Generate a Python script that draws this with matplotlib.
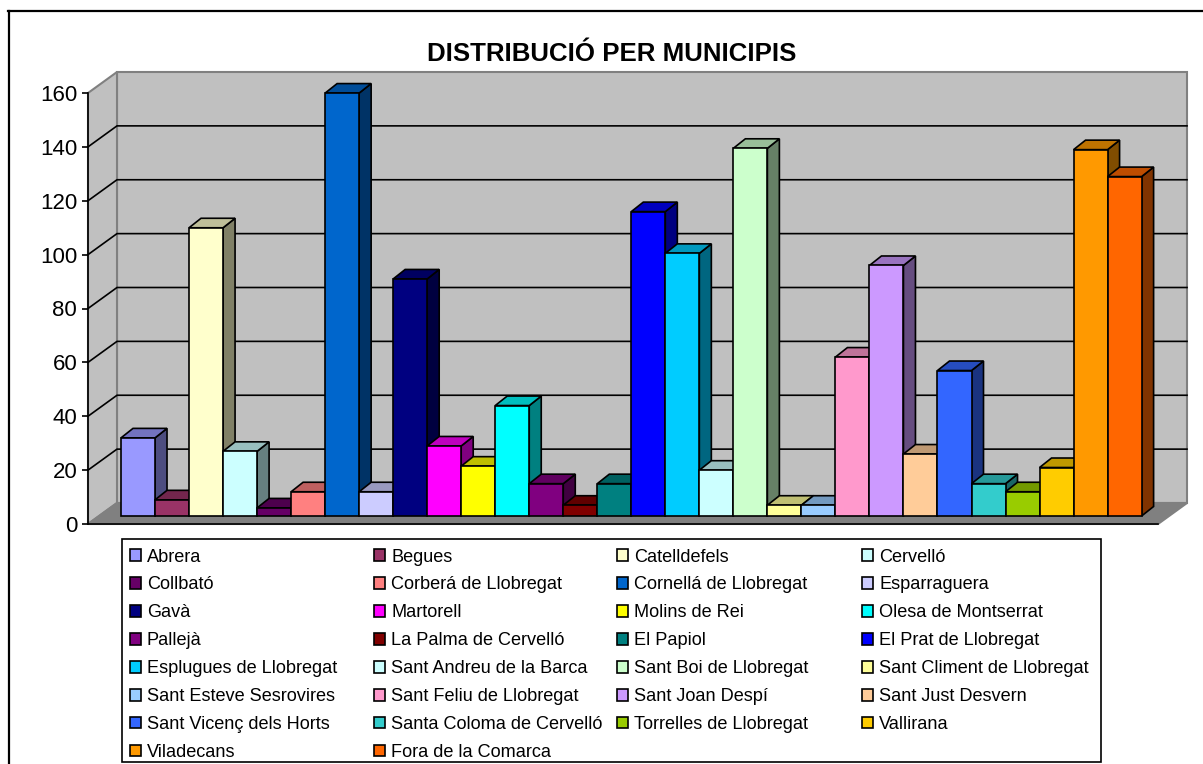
import matplotlib
matplotlib.use('Agg')
import matplotlib.pyplot as plt
from matplotlib.colors import to_rgb
from matplotlib.lines import Line2D
from matplotlib.patches import Patch, Polygon, Rectangle

municipis = ['Abrera', 'Begues', 'Catelldefels', 'Cervelló', 'Collbató',
             'Corberá de Llobregat', 'Cornellá de Llobregat', 'Esparraguera',
             'Gavà', 'Martorell', 'Molins de Rei', 'Olesa de Montserrat',
             'Pallejà', 'La Palma de Cervelló', 'El Papiol', 'El Prat de Llobregat',
             'Esplugues de Llobregat', 'Sant Andreu de la Barca', 'Sant Boi de Llobregat',
             'Sant Climent de Llobregat', 'Sant Esteve Sesrovires', 'Sant Feliu de Llobregat',
             'Sant Joan Despí', 'Sant Just Desvern', 'Sant Vicenç dels Horts',
             'Santa Coloma de Cervelló', 'Torrelles de Llobregat', 'Vallirana',
             'Viladecans', 'Fora de la Comarca']
valors = [29, 6, 107, 24, 3, 9, 157, 9, 88, 26, 18.5, 41, 12, 4, 12, 113,
          97.5, 17, 136.5, 4, 4, 59, 93, 23, 54, 12, 9, 18, 136, 126]
colors = ['#9999FF', '#993366', '#FFFFCC', '#CCFFFF', '#660066', '#FF8080',
          '#0066CC', '#CCCCFF', '#000080', '#FF00FF', '#FFFF00', '#00FFFF',
          '#800080', '#800000', '#008080', '#0000FF', '#00CCFF', '#CCFFFF',
          '#CCFFCC', '#FFFF99', '#99CCFF', '#FF99CC', '#CC99FF', '#FFCC99',
          '#3366FF', '#33CCCC', '#99CC00', '#FFCC00', '#FF9900', '#FF6600']
yticks = [0, 20, 40, 60, 80, 100, 120, 140, 160]

W, H = 1203, 764
FONT = 'Liberation Sans'
LW = 1.2


def shade(color, k):
    return tuple(c * k for c in to_rgb(color))


fig = plt.figure(figsize=(W / 100, H / 100), dpi=100, facecolor='white')
# front plane of the box, in pixels: x 88-1158, y 93-524
ax = fig.add_axes([88 / W, 1 - 524 / H, 1070 / W, 431 / H])
ax.set_facecolor('none')
px_x = 34.02   # pixels per bar
px_y = 431 / 160
xmax = 1070 / px_x
ax.set_xlim(0, xmax)
ax.set_ylim(0, 160)

wall_dx, wall_dy = 29 / px_x, 21 / px_y
bar_dx, bar_dy = 12 / px_x, 9.5 / px_y
bar_x0 = 33 / px_x
bar_y0 = 8 / px_y

# walls and floor
wall_kw = dict(edgecolor='#808080', linewidth=1.5, clip_on=False, joinstyle='miter')
ax.add_patch(Polygon([(wall_dx, wall_dy), (xmax + wall_dx, wall_dy),
                      (xmax + wall_dx, 160 + wall_dy), (wall_dx, 160 + wall_dy)],
                     facecolor='#C0C0C0', zorder=1, **wall_kw))
ax.add_patch(Polygon([(0, 0), (wall_dx, wall_dy), (wall_dx, 160 + wall_dy), (0, 160)],
                     facecolor='#C0C0C0', zorder=1, **wall_kw))
ax.add_patch(Polygon([(0, 0), (wall_dx, wall_dy), (xmax + wall_dx, wall_dy), (xmax, 0)],
                     facecolor='#808080', zorder=2, **wall_kw))

# gridlines go along the side wall and then the back wall
for t in yticks[1:-1]:
    ax.plot([0, wall_dx, xmax + wall_dx], [t, t + wall_dy, t + wall_dy],
            color='black', lw=LW, zorder=3, clip_on=False, solid_joinstyle='miter')

# bars, left to right so that each one covers the side of the previous one
edge_kw = dict(edgecolor='black', linewidth=LW, clip_on=False, joinstyle='miter')
for i, (v, c) in enumerate(zip(valors, colors)):
    x0 = bar_x0 + i
    x1 = x0 + 1
    y0 = bar_y0
    y1 = bar_y0 + v
    z = 10 + i
    ax.add_patch(Polygon([(x1, y0), (x1 + bar_dx, y0 + bar_dy),
                          (x1 + bar_dx, y1 + bar_dy), (x1, y1)],
                         facecolor=shade(c, 0.5), zorder=z, **edge_kw))
    ax.add_patch(Polygon([(x0, y1), (x1, y1), (x1 + bar_dx, y1 + bar_dy),
                          (x0 + bar_dx, y1 + bar_dy)],
                         facecolor=shade(c, 0.75), zorder=z, **edge_kw))
    ax.bar(x0, v, width=1, bottom=y0, align='edge', color=c, zorder=z, **edge_kw)

ax.set_xticks([])
ax.set_yticks(yticks)
ax.tick_params(axis='y', length=4.3, width=LW, pad=3.5, labelsize=16)
for lab in ax.get_yticklabels():
    lab.set_family(FONT)
for side in ['top', 'right']:
    ax.spines[side].set_visible(False)
ax.spines['left'].set_linewidth(LW)
ax.spines['bottom'].set_linewidth(LW)
ax.spines['left'].set_zorder(5)
ax.spines['bottom'].set_zorder(5)

fig.text(612 / W, 1 - 54 / H, 'DISTRIBUCIÓ PER MUNICIPIS', family=FONT,
         fontsize=18.6, fontweight='bold', ha='center', va='center')

# legend box runs off the bottom of the picture
fig.add_artist(Rectangle((122 / W, 1 - 762 / H), 979 / W, 223 / H, transform=fig.transFigure,
                         facecolor='white', edgecolor='black', linewidth=LW))

# one legend per column, 8 8 7 7 entries, to keep the columns evenly spaced
col_x = [129.5, 374, 617, 862]
for j, x in enumerate(col_x):
    idx = list(range(j, len(municipis), 4))
    handles = [Patch(facecolor=colors[i], edgecolor='black', linewidth=LW,
                     label=municipis[i]) for i in idx]
    leg = fig.legend(handles=handles, loc='upper left', frameon=False, ncol=1,
                     bbox_to_anchor=(x / W, 1 - 548.5 / H), bbox_transform=fig.transFigure,
                     borderaxespad=0, borderpad=0, labelspacing=0.6,
                     handlelength=0.62, handleheight=0.62, handletextpad=0.33,
                     prop={'family': FONT, 'size': 13.1})

# outer chart frame, only the top and left edges show
fig.add_artist(Line2D([8.5 / W, 8.5 / W], [0, 1 - 11 / H], color='black', lw=1.6))
fig.add_artist(Line2D([8 / W, 1], [1 - 11 / H, 1 - 11 / H], color='black', lw=1.6))

fig.savefig('out.png', dpi=100, facecolor='white')
